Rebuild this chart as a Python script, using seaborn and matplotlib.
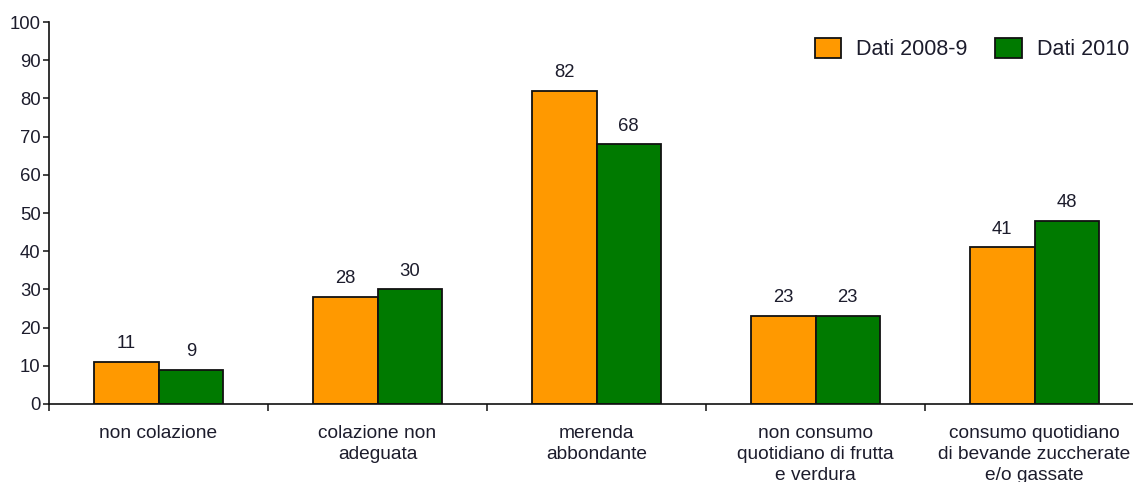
import matplotlib
matplotlib.use("Agg")
import matplotlib.pyplot as plt
import seaborn as sns
import pandas as pd
import numpy as np

categories = ["non colazione", "colazione non\nadeguata", "merenda\nabbondante",
              "non consumo\nquotidiano di frutta\ne verdura",
              "consumo quotidiano\ndi bevande zuccherate\ne/o gassate"]
series_names = ["Dati 2008-9", "Dati 2010"]
values_2008 = [11, 28, 82, 23, 41]
values_2010 = [9, 30, 68, 23, 48]
y_ticks = list(range(0, 101, 10))
colors = ["#FF9900", "#007A00"]

sns.set_theme(style="white")
plt.rcParams['font.family'] = ['Liberation Sans', 'DejaVu Sans']

df = pd.DataFrame({
    "cat": categories * 2,
    "serie": [series_names[0]] * 5 + [series_names[1]] * 5,
    "val": values_2008 + values_2010,
})

W, H = 1133, 482
fig = plt.figure(figsize=(W / 100, H / 100), dpi=100)
left_px, right_px, bot_px, top_px = 49, 1133, 404, 22
ax = fig.add_axes([left_px / W, (H - bot_px) / H, (right_px - left_px) / W, (bot_px - top_px) / H])

sns.barplot(data=df, x="cat", y="val", hue="serie", palette=colors, width=0.59,
            edgecolor="#111111", linewidth=1.3, ax=ax, order=categories,
            hue_order=series_names, saturation=1)

txt = "#1c1c2c"
fs = 13.3
for c in ax.containers:
    ax.bar_label(c, labels=[f"{v:.0f}" for v in c.datavalues], padding=7, fontsize=fs, color=txt)

for s in ["top", "right"]:
    ax.spines[s].set_visible(False)
for s in ["left", "bottom"]:
    ax.spines[s].set_color("#111111")
    ax.spines[s].set_linewidth(1.2)

ax.set_yticks(y_ticks)
ax.set_xticks(np.arange(-0.5, 5.5, 1.0), minor=True)
ax.tick_params(axis="y", which="major", direction="out", length=4, width=1.1, color="#111111",
               labelsize=fs, labelcolor=txt, left=True, pad=2)
ax.tick_params(axis="x", which="major", length=0, labelsize=13.8, labelcolor=txt, pad=15)
ax.tick_params(axis="x", which="minor", direction="out", length=5, width=1.1, color="#111111", bottom=True)
for lbl in ax.get_xticklabels():
    lbl.set_linespacing(1.3)

cat_w = 219.0
x0 = -0.5
ax.set_xlim(x0, x0 + (right_px - left_px) / cat_w)
ax.set_ylim(0, 100)
ax.set_xlabel("")
ax.set_ylabel("")

ax.legend(loc="center right", bbox_to_anchor=(1131 / W, (H - 49) / H), bbox_transform=fig.transFigure,
          ncol=2, frameon=False, fontsize=15.5, handlelength=1.22, handleheight=1.1,
          handletextpad=0.7, columnspacing=1.3, labelcolor=txt, borderaxespad=0,
          borderpad=0.1)

fig.savefig("out.png", dpi=100)
